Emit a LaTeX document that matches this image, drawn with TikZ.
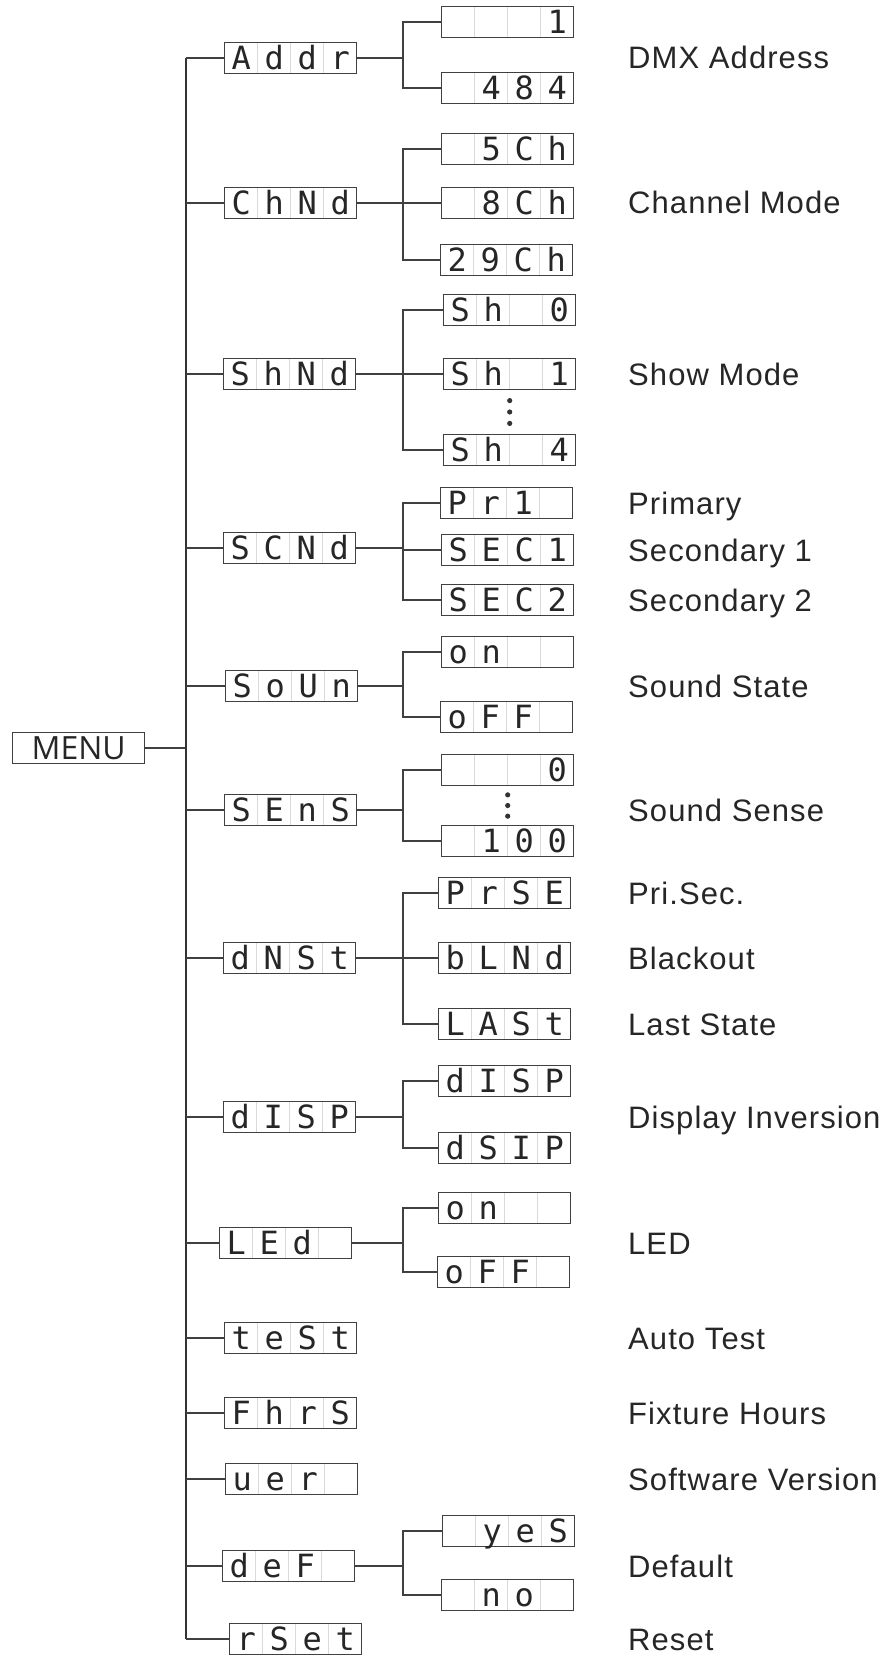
\documentclass[tikz,border=0pt]{standalone}
\usepackage{fontspec}
\setmainfont{Liberation Sans}[LetterSpace=3.5]
\newfontfamily\lcdfont{DejaVu Sans Mono}
\newfontfamily\menufont{Open Sans}
\usepackage{tikz}
\usetikzlibrary{calc,positioning}

% one display = four character cells
\newcommand\lcdcell[1]{\makebox[33pt]{#1}}
\newcommand\lcdtext[4]{\lcdcell{#1}\lcdcell{#2}\lcdcell{#3}\lcdcell{#4}}

\begin{document}
\begin{tikzpicture}[
    x=1pt, y=-1pt,
    lcd/.style={rectangle, draw=black!75, line width=1.4pt, anchor=west, inner sep=0pt,
        minimum width=132pt, minimum height=31pt, text height=23pt, text depth=0pt,
        font=\lcdfont\fontsize{32}{36}\selectfont, text=black!85,
        path picture={\foreach \i in {1,2,3}
            \draw[black!15, line width=0.8pt]
                ($(path picture bounding box.south west)!\i/4!(path picture bounding box.south east)$) --
                ($(path picture bounding box.north west)!\i/4!(path picture bounding box.north east)$);}},
    menubox/.style={rectangle, draw=black!75, line width=1.4pt, anchor=west, inner sep=0pt,
        minimum width=132pt, minimum height=31pt, text height=22pt, text depth=0pt,
        font=\menufont\fontsize{32}{36}\selectfont, text=black!85},
    info/.style={anchor=west, inner sep=0pt, text height=22pt, text depth=0pt,
        font=\fontsize{31}{37}\selectfont, text=black!85},
    link/.style={draw=black!75, line width=1.3pt},
    trunkline/.style={draw=black!80, line width=2pt}
]
    \useasboundingbox (0,0) rectangle (888,1656);

    \coordinate (trunk) at (186,0);
    \coordinate (split) at (403,0);
    \coordinate (col) at (628,0);

    % root
    \node [menubox] (menu) at (12,748) {MENU};

    % first level
    \node [lcd] (addr) at (224,58)   {\lcdtext{A}{d}{d}{r}};
    \node [lcd] (chnd) at (224,203)  {\lcdtext{C}{h}{N}{d}};
    \node [lcd] (shnd) at (223,374)  {\lcdtext{S}{h}{N}{d}};
    \node [lcd] (scnd) at (223,548)  {\lcdtext{S}{C}{N}{d}};
    \node [lcd] (soun) at (225,686)  {\lcdtext{S}{o}{U}{n}};
    \node [lcd] (sens) at (224,810)  {\lcdtext{S}{E}{n}{S}};
    \node [lcd] (dnst) at (223,958)  {\lcdtext{d}{N}{S}{t}};
    \node [lcd] (disp) at (223,1117) {\lcdtext{d}{I}{S}{P}};
    \node [lcd] (led)  at (219,1243) {\lcdtext{L}{E}{d}{}};
    \node [lcd] (test) at (224,1338) {\lcdtext{t}{e}{S}{t}};
    \node [lcd] (fhrs) at (224,1413) {\lcdtext{F}{h}{r}{S}};
    \node [lcd] (ver)  at (225,1479) {\lcdtext{u}{e}{r}{}};
    \node [lcd] (def)  at (222,1566) {\lcdtext{d}{e}{F}{}};
    \node [lcd] (rset) at (229,1639) {\lcdtext{r}{S}{e}{t}};

    % second level
    \node [lcd] (adr1)   at (441,22)   {\lcdtext{}{}{}{1}};
    \node [lcd] (adr484) at (441,88)   {\lcdtext{}{4}{8}{4}};
    \node [lcd] (ch5)    at (441,149)  {\lcdtext{}{5}{C}{h}};
    \node [lcd] (ch8)    at (441,203)  {\lcdtext{}{8}{C}{h}};
    \node [lcd] (ch29)   at (440,260)  {\lcdtext{2}{9}{C}{h}};
    \node [lcd] (sh0)    at (443,310)  {\lcdtext{S}{h}{}{0}};
    \node [lcd] (sh1)    at (443,374)  {\lcdtext{S}{h}{}{1}};
    \node [lcd] (sh4)    at (443,450)  {\lcdtext{S}{h}{}{4}};
    \node [lcd] (pri)    at (440,503)  {\lcdtext{P}{r}{1}{}};
    \node [lcd] (sec1)   at (441,550)  {\lcdtext{S}{E}{C}{1}};
    \node [lcd] (sec2)   at (441,600)  {\lcdtext{S}{E}{C}{2}};
    \node [lcd] (sdon)   at (441,652)  {\lcdtext{o}{n}{}{}};
    \node [lcd] (sdoff)  at (440,717)  {\lcdtext{o}{F}{F}{}};
    \node [lcd] (sen0)   at (441,770)  {\lcdtext{}{}{}{0}};
    \node [lcd] (sen100) at (441,841)  {\lcdtext{}{1}{0}{0}};
    \node [lcd] (prse)   at (438,893)  {\lcdtext{P}{r}{S}{E}};
    \node [lcd] (blnd)   at (438,958)  {\lcdtext{b}{L}{N}{d}};
    \node [lcd] (last)   at (438,1024) {\lcdtext{L}{A}{S}{t}};
    \node [lcd] (disp1)  at (438,1081) {\lcdtext{d}{I}{S}{P}};
    \node [lcd] (dsip)   at (438,1148) {\lcdtext{d}{S}{I}{P}};
    \node [lcd] (ledon)  at (438,1208) {\lcdtext{o}{n}{}{}};
    \node [lcd] (ledoff) at (437,1272) {\lcdtext{o}{F}{F}{}};
    \node [lcd] (yes)    at (442,1531) {\lcdtext{}{y}{e}{S}};
    \node [lcd] (no)     at (441,1595) {\lcdtext{}{n}{o}{}};

    % descriptions
    \node [info] at (col |- addr)  {DMX Address};
    \node [info] at (col |- chnd)  {Channel Mode};
    \node [info] at (col |- shnd)  {Show Mode};
    \node [info] at (col |- pri)   {Primary};
    \node [info] at (col |- sec1)  {Secondary 1};
    \node [info] at (col |- sec2)  {Secondary 2};
    \node [info] at (col |- soun)  {Sound State};
    \node [info] at (col |- sens)  {Sound Sense};
    \node [info] at (col |- prse)  {Pri.Sec.};
    \node [info] at (col |- blnd)  {Blackout};
    \node [info] at (col |- last)  {Last State};
    \node [info] at (col |- disp)  {Display Inversion};
    \node [info] at (col |- led)   {LED};
    \node [info] at (col |- test)  {Auto Test};
    \node [info] at (col |- fhrs)  {Fixture Hours};
    \node [info] at (col |- ver)   {Software Version};
    \node [info] at (col |- def)   {Default};
    \node [info] at (col |- rset)  {Reset};

    % tree lines
    \draw [link] (menu.east) -- (menu.east -| trunk);
    \draw [trunkline] (addr.west -| trunk) -- (rset.west -| trunk);
    \foreach \n in {addr,chnd,shnd,scnd,soun,sens,dnst,disp,led,test,fhrs,ver,def,rset}
        \draw [link] (\n.west -| trunk) -- (\n.west);
    \foreach \p/\kids in {addr/{adr1,adr484}, chnd/{ch5,ch8,ch29}, shnd/{sh0,sh1,sh4},
            scnd/{pri,sec1,sec2}, soun/{sdon,sdoff}, sens/{sen0,sen100},
            dnst/{prse,blnd,last}, disp/{disp1,dsip}, led/{ledon,ledoff}, def/{yes,no}} {
        \draw [link] (\p.east) -- (\p.east -| split);
        \foreach \k in \kids
            \draw [link] (\p.east -| split) -- (\k.west -| split) -- (\k.west);
    }

    % ellipsis dots
    \foreach \a/\b in {sh1/sh4, sen0/sen100}
        \foreach \t in {0.35,0.5,0.65}
            \fill [black!80] ($(\a.center)!\t!(\b.center)$) circle (2.6);
\end{tikzpicture}
\end{document}
